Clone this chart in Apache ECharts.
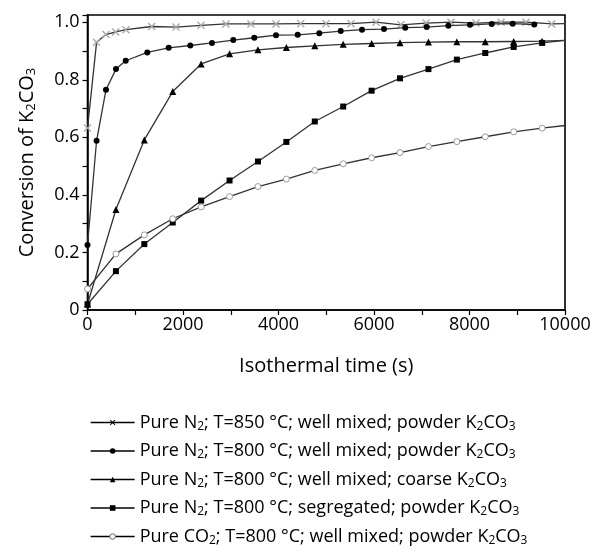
<!DOCTYPE html>
<html>
<head>
<meta charset="utf-8">
<script src="https://cdn.jsdelivr.net/npm/echarts@6/dist/echarts.min.js"></script>
<style>html,body{margin:0;padding:0;background:#fff}#c{width:595px;height:558px}</style>
</head>
<body>
<div id="c"></div>
<script>
// ---- data ----
const seriesNames = [
  'N2 850 powder', 'N2 800 powder', 'N2 800 coarse', 'N2 800 segregated', 'CO2 800 powder'
];
const legendLabels = [
  'Pure N{s|2}; T=850 °C; well mixed; powder K{s|2}CO{s|3}',
  'Pure N{s|2}; T=800 °C; well mixed; powder K{s|2}CO{s|3}',
  'Pure N{s|2}; T=800 °C; well mixed; coarse K{s|2}CO{s|3}',
  'Pure N{s|2}; T=800 °C; segregated; powder K{s|2}CO{s|3}',
  'Pure CO{s|2}; T=800 °C; well mixed; powder K{s|2}CO{s|3}'
];
const timeA = [0, 190, 387, 590, 806, 1344, 1853, 2377, 2900, 3424, 3948, 4465, 4995, 5518, 6042, 6565, 7089, 7613, 8136, 8660, 9183, 9721, 10000];
const convA = [0.632, 0.930, 0.957, 0.966, 0.974, 0.985, 0.983, 0.989, 0.994, 0.994, 0.994, 0.995, 0.995, 0.995, 1.000, 0.991, 0.997, 1.000, 0.997, 1.000, 1.000, 0.994, 0.995];
const timeB = [0, 190, 387, 597, 800, 1252, 1700, 2153, 2607, 3053, 3493, 3948, 4402, 4855, 5303, 5749, 6209, 6655, 7104, 7556, 8010, 8465, 8905, 9357];
const convB = [0.226, 0.588, 0.765, 0.837, 0.866, 0.895, 0.911, 0.919, 0.928, 0.938, 0.946, 0.955, 0.956, 0.962, 0.969, 0.974, 0.976, 0.981, 0.983, 0.988, 0.991, 0.994, 0.995, 0.992];
const timeC = [0, 595, 1190, 1785, 2380, 2975, 3570, 4165, 4760, 5355, 5950, 6545, 7140, 7735, 8330, 8925, 9520, 10000];
const convC = [0.020, 0.349, 0.591, 0.759, 0.855, 0.890, 0.904, 0.912, 0.918, 0.923, 0.926, 0.929, 0.931, 0.932, 0.932, 0.933, 0.934, 0.937];
const timeD = [0, 595, 1190, 1785, 2380, 2975, 3570, 4165, 4760, 5355, 5950, 6545, 7140, 7735, 8330, 8925, 9520, 10000];
const convD = [0.020, 0.135, 0.229, 0.304, 0.380, 0.450, 0.516, 0.584, 0.655, 0.707, 0.762, 0.805, 0.837, 0.870, 0.893, 0.914, 0.928, 0.937];
const timeE = [0, 595, 1190, 1785, 2380, 2975, 3570, 4165, 4760, 5355, 5950, 6545, 7140, 7735, 8330, 8925, 9520, 10000];
const convE = [0.073, 0.195, 0.261, 0.317, 0.358, 0.394, 0.429, 0.455, 0.485, 0.508, 0.529, 0.547, 0.568, 0.585, 0.602, 0.619, 0.632, 0.641];
const xTicks = ['0', '2000', '4000', '6000', '8000', '10000'];
const yTicks = ['0', '0.2', '0.4', '0.6', '0.8', '1.0'];

// ---- build ----
function pts(t, v, lastNoSymbol) {
  return t.map((x, i) => {
    if (lastNoSymbol && i === t.length - 1 && x === 10000) return { value: [x, v[i]], symbol: 'none' };
    return [x, v[i]];
  });
}
const FONT = 'Open Sans';
const xSym = 'path://M0,1.2L1.2,0L5,3.8L8.8,0L10,1.2L6.2,5L10,8.8L8.8,10L5,6.2L1.2,10L0,8.8L3.8,5Z';
const lineCol = '#333';
const sers = [
  { d: pts(timeA, convA, true), symbol: xSym, size: 8, color: '#a8a8a8', border: null },
  { d: pts(timeB, convB, false), symbol: 'circle', size: 6, color: '#000', border: null },
  { d: pts(timeC, convC, true), symbol: 'triangle', size: 7, color: '#000', border: null },
  { d: pts(timeD, convD, true), symbol: 'rect', size: 6, color: '#000', border: null },
  { d: pts(timeE, convE, true), symbol: 'circle', size: 6, color: '#fff', border: '#999' }
];
const series = sers.map((s, i) => ({
  name: seriesNames[i],
  type: 'line',
  data: s.d,
  symbol: s.symbol,
  symbolSize: s.size,
  showAllSymbol: true,
  lineStyle: { color: lineCol, width: 1.3 },
  itemStyle: s.border ? { color: s.color, borderColor: s.border, borderWidth: 1 } : { color: s.color, borderWidth: 0 },
  emphasis: { disabled: true },
  animation: false,
  z: 2 + i
}));

const subRich = {
  s: { fontSize: 12, fontFamily: FONT, color: '#000', padding: [8, 0, 0, 0] }
};

const chart = echarts.init(document.getElementById('c'), null, { renderer: 'canvas' });
chart.setOption({
  animation: false,
  grid: { left: 87.5, right: 30, top: 15, bottom: 248, show: true, borderColor: '#000', borderWidth: 1.6, backgroundColor: 'transparent' },
  xAxis: {
    type: 'value', min: 0, max: 10000, interval: 1000,
    name: 'Isothermal time (s)', nameLocation: 'middle', nameGap: 46,
    nameTextStyle: { fontFamily: FONT, fontSize: 20, color: '#000' },
    axisLine: { show: true, lineStyle: { color: '#000', width: 1.5 } },
    axisTick: { show: true, inside: false, length: 5, lineStyle: { color: '#000', width: 1.2 } },
    axisLabel: {
      fontFamily: FONT, fontSize: 18, color: '#000', margin: 6, showMinLabel: true, showMaxLabel: true,
      formatter: v => { const k = Math.round(v / 2000); return Math.abs(v - k * 2000) < 1 ? xTicks[k] : ''; }
    },
    splitLine: { show: false }
  },
  yAxis: {
    type: 'value', min: 0, max: 1.025, interval: 0.1,
    name: 'Conversion of K{s|2}CO{s|3}', nameLocation: 'middle', nameGap: 50, nameRotate: 90,
    nameTextStyle: { fontFamily: FONT, fontSize: 20, color: '#000', rich: { s: { fontSize: 13, fontFamily: FONT, color: '#000', padding: [8, 0, 0, 0] } } },
    axisLine: { show: true, lineStyle: { color: '#000', width: 1.5 } },
    axisTick: { show: true, inside: false, length: 5, lineStyle: { color: '#000', width: 1.2 } },
    axisLabel: {
      fontFamily: FONT, fontSize: 18, color: '#000', margin: 8,
      formatter: v => { const k = Math.round(v / 0.2); return Math.abs(v - k * 0.2) < 1e-6 && k <= 5 ? yTicks[k] : ''; }
    },
    splitLine: { show: false }
  },
  legend: {
    orient: 'vertical', left: 85, top: 408,
    itemWidth: 44, itemHeight: 7, itemGap: 9,
    selectedMode: false,
    data: seriesNames.map((n, i) => {
      const item = { name: n, lineStyle: { color: '#000', width: 1.3 } };
      if (i === 0) item.itemStyle = { color: '#000' };
      if (i === 4) item.itemStyle = { color: '#fff', borderColor: '#666', borderWidth: 1 };
      return item;
    }),
    formatter: name => legendLabels[seriesNames.indexOf(name)],
    textStyle: { fontFamily: FONT, fontSize: 18, color: '#000', lineHeight: 19, rich: subRich }
  },
  series: series
});
</script>
</body>
</html>
